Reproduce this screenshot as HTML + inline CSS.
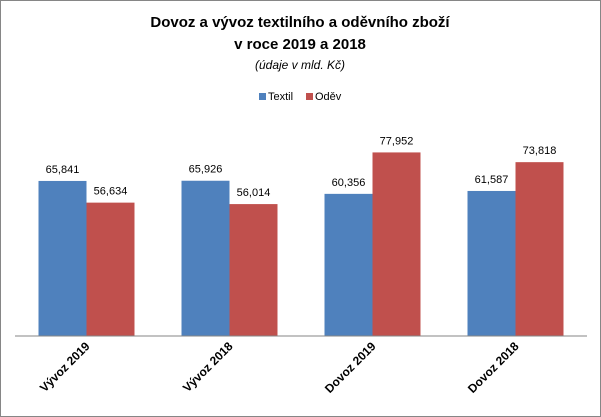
<!DOCTYPE html>
<html><head><meta charset="utf-8"><style>
html,body{margin:0;padding:0;background:#fff;}
svg{display:block;font-family:"Liberation Sans",Arial,sans-serif;}
</style></head><body>
<svg id="chart" width="601" height="417" viewBox="0 0 601 417">
<rect x="0.5" y="0.5" width="600" height="416" fill="#fff" stroke="#868686"/>
<text x="300" y="27" text-anchor="middle" font-size="15" font-weight="bold" fill="#000">Dovoz a vývoz textilního a oděvního zboží</text>
<text x="300" y="49" text-anchor="middle" font-size="15" font-weight="bold" fill="#000">v roce 2019 a 2018</text>
<text x="300" y="69" text-anchor="middle" font-size="12" font-style="italic" fill="#000">(údaje v mld. Kč)</text>
<g>
<rect x="259" y="93" width="7" height="7" fill="#4f81bd"/>
<text x="268" y="100" font-size="11" fill="#000">Textil</text>
<rect x="306" y="93" width="7" height="7" fill="#c0504d"/>
<text x="315" y="100" font-size="11" fill="#000">Oděv</text>
</g>
<g id="plot"></g>
<line x1="15" y1="336" x2="587" y2="336" stroke="#868686"/>
</svg>
<script>
const categories = ["Vývoz 2019","Vývoz 2018","Dovoz 2019","Dovoz 2018"];
const textil = [65.841, 65.926, 60.356, 61.587];
const odev = [56.634, 56.014, 77.952, 73.818];
const valueLabelsTextil = ["65,841","65,926","60,356","61,587"];
const valueLabelsOdev = ["56,634","56,014","77,952","73,818"];

const NS = "http://www.w3.org/2000/svg";
const plot = document.getElementById("plot");
const x0 = 15, x1 = 587, baseY = 336, yMax = 100, plotH = 235.5;
const catW = (x1 - x0) / categories.length;
const barW = 48;
function xCat(i){ return x0 + catW * i + catW / 2; }
function yVal(v){ return baseY - v / yMax * plotH; }

function drawBar(i, v, label, color, offset, series){
  const x = xCat(i) + offset;
  const y = yVal(v);
  const r = document.createElementNS(NS, "rect");
  r.setAttribute("x", x); r.setAttribute("y", y);
  r.setAttribute("width", barW); r.setAttribute("height", baseY - y);
  r.setAttribute("fill", color);
  
  
  plot.appendChild(r);
  const t = document.createElementNS(NS, "text");
  t.setAttribute("x", x + barW / 2); t.setAttribute("y", y - 8);
  t.setAttribute("text-anchor", "middle"); t.setAttribute("font-size", "11");
  t.textContent = label;
  
  
  plot.appendChild(t);
}
categories.forEach((c, i) => {
  drawBar(i, textil[i], valueLabelsTextil[i], "#4f81bd", -barW, "textil");
  drawBar(i, odev[i], valueLabelsOdev[i], "#c0504d", 0, "odev");
  const t = document.createElementNS(NS, "text");
  const cx = xCat(i) + 4, cy = 347;
  t.setAttribute("x", cx); t.setAttribute("y", cy);
  t.setAttribute("text-anchor", "end"); t.setAttribute("font-size", "12");
  t.setAttribute("font-weight", "bold");
  t.setAttribute("transform", "rotate(-45 " + cx + " " + cy + ")");
  t.textContent = c;
  
  
  plot.appendChild(t);
});
</script>
</body></html>
